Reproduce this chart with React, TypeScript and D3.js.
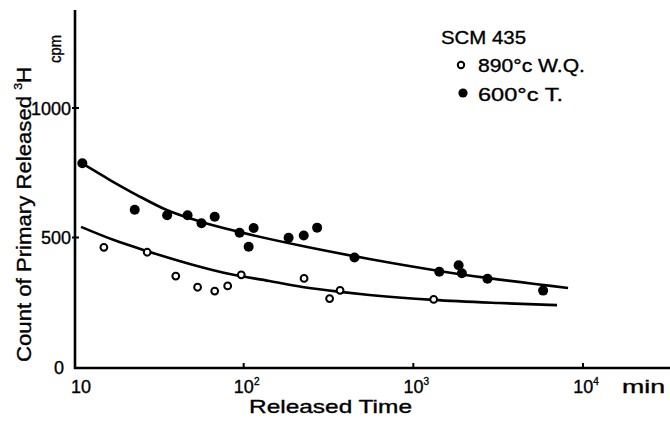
import React from "react";
import * as d3 from "d3";

// ---- data ----
const xTickValues = [10, 100, 1000, 10000];
const xTickExponents = ["", "2", "3", "4"];
const yTickValues = [0, 500, 1000];

// 890°C W.Q. (open circles)
const wqTime = [15, 27, 39.8, 53.5, 67.5, 80.5, 96.8, 227, 321, 370, 1318];
const wqCount = [462, 443, 351, 308, 293, 313, 356, 342, 264, 296, 261];

// 600°C T. (filled circles)
const tTime = [11.2, 22.8, 35.4, 46.7, 56.4, 67.5, 94.6, 107, 114.5, 184, 226, 271, 450, 1422, 1849, 1933, 2735, 5821];
const tCount = [787, 607, 586, 586, 555, 580, 518, 464, 537, 499, 508, 538, 423, 368, 393, 362, 341, 295];

// fitted curves
const tFitTime = [11.3, 16.3, 23.5, 35.2, 56.6, 94.6, 222, 551, 1422, 2723, 8166];
const tFitCount = [784, 722, 664, 606, 560, 521, 467, 417, 371, 344, 305];
const wqFitTime = [11.0, 17.2, 26.8, 48.1, 82.8, 142, 222, 372, 551, 1312, 3206, 7031];
const wqFitCount = [541, 490, 448, 398, 359, 332, 309, 290, 278, 259, 247, 239];

const W = 670;
const H = 436;
const FONT = "'Liberation Sans', Arial, sans-serif";

export default function App() {
  const x = d3.scaleLog().domain([10, 10000]).range([74, 583]);
  const y = d3.scaleLinear().domain([0, 1000]).range([367, 108]);

  const line = d3
    .line<[number, number]>()
    .x((d) => x(d[0]))
    .y((d) => y(d[1]))
    .curve(d3.curveMonotoneX);

  const tFit = tFitTime.map((t, i) => [t, tFitCount[i]] as [number, number]);
  const wqFit = wqFitTime.map((t, i) => [t, wqFitCount[i]] as [number, number]);

  const axisY = 368;
  const axisX = 75;
  const ink = { fill: "#000", stroke: "#000", strokeWidth: 0.35 };

  return (
    <svg
      width={W}
      height={H}
      viewBox={`0 0 ${W} ${H}`}
      style={{ position: "absolute", left: 0, top: 0, background: "#fff" }}
      fontFamily={FONT}
    >
      <rect x={0} y={0} width={W} height={H} fill="#fff" />
      {/* axes */}
      <line x1={axisX} y1={10} x2={axisX} y2={axisY + 1} stroke="#000" strokeWidth={2.6} />
      <line x1={axisX - 1} y1={axisY} x2={W} y2={axisY} stroke="#000" strokeWidth={2.4} />

      {/* y ticks */}
      {yTickValues.map((v) => (
        <g key={"yt" + v}>
          {v > 0 && (
            <line x1={axisX - 3} x2={axisX + 4} y1={y(v)} y2={y(v)} stroke="#000" strokeWidth={2} />
          )}
          <text x={v === 0 ? 64 : 71} y={y(v) + 6.5} textAnchor="end" fontSize={18} {...ink}>
            {v}
          </text>
        </g>
      ))}

      {/* x ticks */}
      {xTickValues.map((v, i) => (
        <g key={"xt" + v}>
          {i > 0 && (
            <line x1={x(v)} x2={x(v)} y1={axisY} y2={axisY - 5} stroke="#000" strokeWidth={2} />
          )}
          <text x={x(v) + (i === 0 ? 7 : 3)} y={393} textAnchor="middle" fontSize={18} {...ink}>
            10
            {xTickExponents[i] && (
              <tspan fontSize={10} dy={-8}>
                {xTickExponents[i]}
              </tspan>
            )}
          </text>
        </g>
      ))}
      <text x={622} y={393} fontSize={18} {...ink} textLength={43} lengthAdjust="spacingAndGlyphs">
        min
      </text>

      {/* axis titles */}
      <text x={249} y={413} fontSize={19} {...ink} textLength={163} lengthAdjust="spacingAndGlyphs">
        Released  Time
      </text>
      <text
        transform="translate(31,362) rotate(-90)"
        fontSize={20}
        {...ink}
        textLength={295}
        lengthAdjust="spacingAndGlyphs"
      >
        Count of Primary Released <tspan fontSize={11} dy={-9}>3</tspan>
        <tspan dy={9}>H</tspan>
      </text>
      <text transform="translate(61,63) rotate(-90)" fontSize={17} {...ink} textLength={28} lengthAdjust="spacingAndGlyphs">
        cpm
      </text>

      {/* fit curves */}
      <path d={line(tFit) ?? ""} fill="none" stroke="#000" strokeWidth={2.6} />
      <path d={line(wqFit) ?? ""} fill="none" stroke="#000" strokeWidth={2.6} />

      {/* points */}
      {tTime.map((t, i) => (
        <circle key={"t" + i} cx={x(t)} cy={y(tCount[i])} r={5} fill="#000" />
      ))}
      {wqTime.map((t, i) => (
        <circle key={"w" + i} cx={x(t)} cy={y(wqCount[i])} r={3.4} fill="#fff" stroke="#000" strokeWidth={2} />
      ))}

      {/* legend */}
      <text x={441} y={44} fontSize={19} {...ink} textLength={85} lengthAdjust="spacingAndGlyphs">
        SCM 435
      </text>
      <circle cx={461} cy={65} r={3.2} fill="#fff" stroke="#000" strokeWidth={2} />
      <text x={478} y={72} fontSize={19} {...ink} textLength={107} lengthAdjust="spacingAndGlyphs">
        890°c W.Q.
      </text>
      <circle cx={463} cy={93} r={4.6} fill="#000" />
      <text x={478} y={101} fontSize={19} {...ink} textLength={85} lengthAdjust="spacingAndGlyphs">
        600°c  T.
      </text>
    </svg>
  );
}
